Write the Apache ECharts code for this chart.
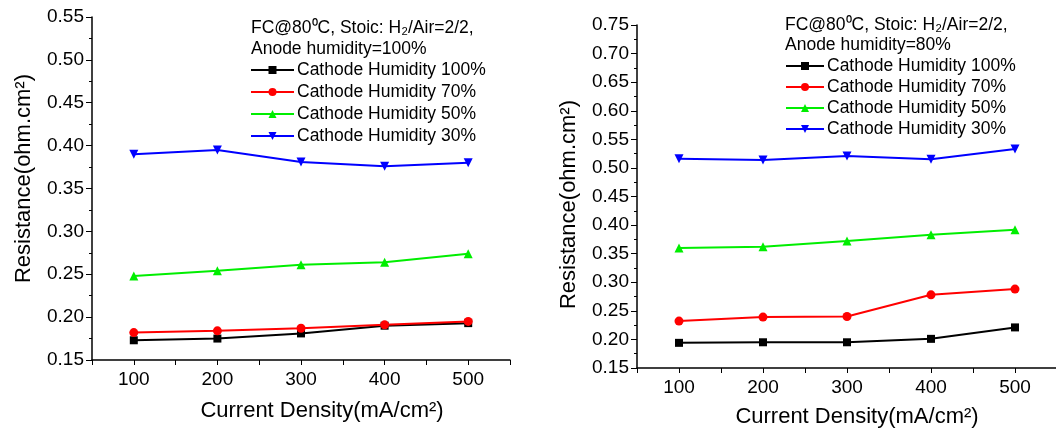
<!DOCTYPE html>
<html><head><meta charset="utf-8">
<script src="https://cdn.jsdelivr.net/npm/echarts@6/dist/echarts.min.js"></script>
<style>html,body{margin:0;padding:0;background:#fff}#c{width:1056px;height:429px}</style>
</head><body><div id="c"></div>
<script>
const currentDensity = [100, 200, 300, 400, 500];
const seriesNames = ['Cathode Humidity 100%', 'Cathode Humidity 70%', 'Cathode Humidity 50%', 'Cathode Humidity 30%'];
// Left panel: anode humidity 100%
const leftCH100 = [0.173, 0.175, 0.181, 0.190, 0.193];
const leftCH70  = [0.182, 0.184, 0.187, 0.191, 0.195];
const leftCH50  = [0.248, 0.254, 0.261, 0.264, 0.274];
const leftCH30  = [0.390, 0.395, 0.381, 0.376, 0.380];
// Right panel: anode humidity 80%
const rightCH100 = [0.194, 0.195, 0.195, 0.201, 0.221];
const rightCH70  = [0.232, 0.239, 0.240, 0.278, 0.288];
const rightCH50  = [0.360, 0.362, 0.372, 0.383, 0.392];
const rightCH30  = [0.516, 0.514, 0.521, 0.515, 0.533];
const annotLeft = ['FC@80⁰C, Stoic: H₂/Air=2/2,', 'Anode humidity=100%'];
const annotRight = ['FC@80⁰C, Stoic: H₂/Air=2/2,', 'Anode humidity=80%'];

const colors = ['#000000', '#ff0000', '#00ee00', '#0000ff'];
const symbols = ['rect', 'circle', 'triangle', 'triangle'];
const rotates = [0, 0, 0, 180];
const FONT = 'Liberation Sans, Arial, sans-serif';

function mkSeries(dataArrs, idx) {
  return dataArrs.map((d, i) => ({
    name: seriesNames[i], type: 'line',
    xAxisIndex: idx, yAxisIndex: idx,
    data: currentDensity.map((x, j) => [x, d[j]]),
    symbol: symbols[i], symbolRotate: rotates[i], symbolSize: i === 0 ? 8 : 9,
    lineStyle: { color: colors[i], width: 2 },
    itemStyle: { color: colors[i] },
    animation: false
  }));
}
function xAxis(idx, gap, pad) {
  return {
    gridIndex: idx, type: 'value', min: 50, max: 550, interval: 50,
    name: 'Current Density(mA/cm²)', nameLocation: 'middle', nameGap: gap,
    nameTextStyle: { fontSize: 22, color: '#000', fontFamily: FONT, padding: pad },
    axisLine: { lineStyle: { color: '#000', width: 1.5 } },
    axisTick: { inside: false, length: 5, lineStyle: { color: '#000' } },
    axisLabel: { fontSize: 19, color: '#000', fontFamily: FONT, margin: 10,
      formatter: v => (v % 100 === 0 ? String(v) : '') },
    splitLine: { show: false }
  };
}
function yAxis(idx, min, max, pad) {
  return {
    gridIndex: idx, type: 'value', min: min, max: max, interval: 0.05,
    name: 'Resistance(ohm.cm²)', nameLocation: 'middle', nameGap: 57,
    nameTextStyle: { fontSize: 22, color: '#000', fontFamily: FONT, padding: pad },
    axisLine: { show: true, lineStyle: { color: '#000', width: 1.5 } },
    axisTick: { show: true, length: 6, lineStyle: { color: '#000' } },
    minorTick: { show: true, splitNumber: 2, length: 3, lineStyle: { color: '#000' } },
    axisLabel: { fontSize: 19, color: '#000', fontFamily: FONT, margin: 8,
      formatter: v => v.toFixed(2) },
    splitLine: { show: false }
  };
}
function legend(left, top, gap, w, lh) {
  return {
    data: seriesNames, left: left, top: top, orient: 'vertical',
    itemWidth: w, itemHeight: 10, itemGap: gap, padding: 0,
    textStyle: { fontSize: 17.5, lineHeight: lh, color: '#000', fontFamily: FONT, padding: [0, 0, 0, -2] }
  };
}
function annot(lines, left, top, lh) {
  return lines.map((t, i) => ({
    type: 'text', left: left, top: top + i * lh,
    style: { text: t, fontSize: 17.5, fill: '#000', fontFamily: FONT }
  }));
}

const chart = echarts.init(document.getElementById('c'));
chart.setOption({
  animation: false,
  grid: [
    { left: 92, top: 17, width: 418, height: 343, outerBoundsMode: 'none', containLabel: false },
    { left: 637, top: 25, width: 420, height: 343, outerBoundsMode: 'none', containLabel: false }
  ],
  xAxis: [xAxis(0, 40, [0, 0, 0, 42]), xAxis(1, 38, [0, 0, 0, 20])],
  yAxis: [yAxis(0, 0.15, 0.55, [0, 0, 0, 20]), yAxis(1, 0.15, 0.75, [0, 16, 0, 0])],
  legend: [
    Object.assign(legend(250, 61, 4, 43, 18), { id: 'l0' }),
    Object.assign(legend(785, 57, 3, 38, 18), { id: 'l1' })
  ],
  graphic: [].concat(annot(annotLeft, 251, 19, 21), annot(annotRight, 785, 16, 20)),
  series: mkSeries([leftCH100, leftCH70, leftCH50, leftCH30], 0)
    .concat(mkSeries([rightCH100, rightCH70, rightCH50, rightCH30], 1))
});
</script></body></html>
